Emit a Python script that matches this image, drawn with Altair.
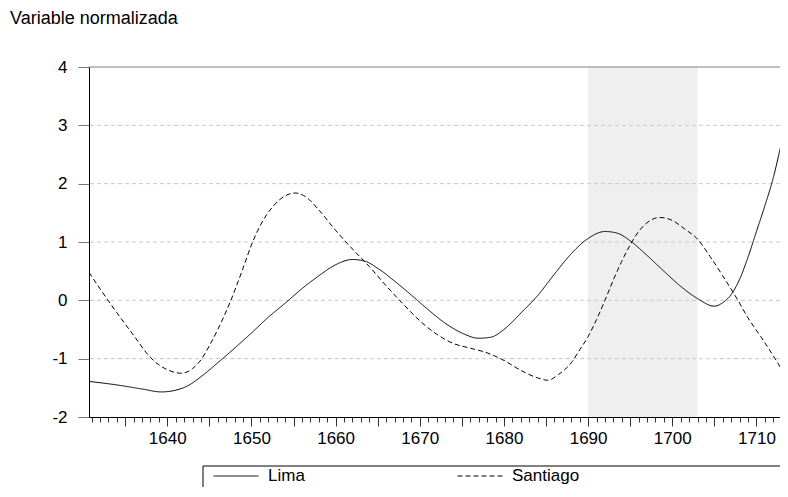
import altair as alt
import pandas as pd

# ---- data ----
lima_years = [1630.7, 1634, 1637, 1639.3, 1641, 1642.5, 1644, 1646, 1648, 1650, 1652, 1654,
              1656, 1658, 1660, 1662, 1663.5, 1665, 1667, 1669, 1671, 1673, 1675, 1677,
              1678.5, 1680, 1682, 1684, 1686, 1688, 1690, 1692, 1693.5, 1695, 1697, 1699,
              1701, 1703, 1705, 1706, 1707, 1708, 1709, 1710, 1711, 1712, 1713, 1713.6]
lima_vals = [-1.39, -1.45, -1.52, -1.57, -1.54, -1.46, -1.31, -1.07, -0.82, -0.56, -0.29, -0.05,
             0.20, 0.42, 0.61, 0.70, 0.67, 0.55, 0.33, 0.09, -0.16, -0.39, -0.56, -0.65,
             -0.63, -0.50, -0.22, 0.08, 0.45, 0.80, 1.06, 1.18, 1.15, 1.02, 0.77, 0.50,
             0.24, 0.03, -0.10, -0.04, 0.10, 0.36, 0.74, 1.18, 1.62, 2.10, 2.72, 3.12]

santiago_years = [1630.7, 1632, 1634, 1636, 1638, 1640, 1641.7, 1643, 1644, 1645, 1646, 1647.5,
                  1649, 1650, 1651, 1652.5, 1654, 1655.2, 1656.5, 1658, 1660, 1662, 1664,
                  1666, 1668, 1670, 1672, 1674, 1676, 1678, 1680, 1682, 1684, 1685.2, 1686.5,
                  1688, 1689, 1690, 1691, 1692, 1693, 1694, 1695, 1696, 1697, 1698.5, 1700,
                  1701.5, 1703, 1704.5, 1706, 1707.8, 1709, 1710.5, 1712, 1713.6]
santiago_vals = [0.48, 0.20, -0.21, -0.60, -0.98, -1.19, -1.25, -1.17, -1.02, -0.78, -0.50, -0.02,
                 0.55, 0.95, 1.27, 1.60, 1.79, 1.84, 1.77, 1.55, 1.20, 0.88, 0.58,
                 0.25, -0.06, -0.35, -0.58, -0.74, -0.82, -0.90, -1.03, -1.20, -1.33, -1.37, -1.27,
                 -1.07, -0.85, -0.62, -0.33, 0.00, 0.35, 0.67, 0.95, 1.18, 1.33, 1.42, 1.37,
                 1.22, 1.05, 0.75, 0.42, 0.00, -0.30, -0.62, -0.95, -1.33]

series_names = ["Lima", "Santiago"]
shade_start = [1690]
shade_end = [1703]
grid_values = [-1, 0, 1, 2, 3]
top_value = [4]
y_ticks = [-2, -1, 0, 1, 2, 3, 4]
x_domain = [1630.7, 1712.8]
minor_ticks = list(range(1631, 1713))

FONT = "Liberation Sans"

lines_df = pd.concat([
    pd.DataFrame({"year": lima_years, "value": lima_vals, "serie": "Lima"}),
    pd.DataFrame({"year": santiago_years, "value": santiago_vals, "serie": "Santiago"}),
])
shade_df = pd.DataFrame({"start": shade_start, "end": shade_end, "lo": [-2], "hi": [4]})
grid_df = pd.DataFrame({"g": grid_values})
top_df = pd.DataFrame({"g": top_value})

xscale = alt.Scale(domain=x_domain, nice=False, zero=False)
yscale = alt.Scale(domain=[-2, 4], nice=False, zero=False)

xaxis = alt.Axis(
    title=None, values=minor_ticks, grid=False,
    labelExpr="datum.value % 10 === 0 ? '' + datum.value : ''",
    labelOverlap=False, labelFontSize=17, labelFont=FONT, labelColor="black",
    labelPadding=4, tickColor="#333333", domainColor="black",
    tickSize={"condition": {"test": "datum.value % 5 === 0", "value": 9}, "value": 5},
)
yaxis = alt.Axis(
    title=None, values=y_ticks, grid=False, labelFontSize=17, labelFont=FONT,
    labelExpr="datum.value < 0 ? '-' + abs(datum.value) : '' + datum.value",
    labelColor="black", tickSize=11, tickColor="#777777", domainColor="black",
    labelPadding=11,
)

shade = alt.Chart(shade_df).mark_rect(color="#efefef").encode(
    x=alt.X("start:Q", scale=xscale, axis=xaxis),
    x2="end:Q",
    y=alt.Y("lo:Q", scale=yscale, axis=yaxis),
    y2="hi:Q",
)

grid = alt.Chart(grid_df).mark_rule(color="#c8c8c8", strokeDash=[4, 3], strokeWidth=1).encode(
    y=alt.Y("g:Q", scale=yscale, axis=yaxis),
)

top = alt.Chart(top_df).mark_rule(color="#808080", strokeWidth=1).encode(
    y=alt.Y("g:Q", scale=yscale, axis=yaxis),
)

lines = alt.Chart(lines_df).mark_line(
    interpolate="monotone", color="black", strokeWidth=1, clip=True
).encode(
    x=alt.X("year:Q", scale=xscale, axis=xaxis),
    y=alt.Y("value:Q", scale=yscale, axis=yaxis),
    strokeDash=alt.StrokeDash(
        "serie:N",
        scale=alt.Scale(domain=series_names, range=[[1, 0], [5, 3]]),
        legend=alt.Legend(
            orient="none", legendX=124, legendY=386, direction="horizontal", title=None,
            symbolType="stroke", symbolSize=2025, symbolStrokeWidth=1,
            symbolStrokeColor="black", labelFontSize=17, labelFont=FONT,
            labelColor="black", labelOffset=9, columnPadding=150, padding=0,
        ),
    ),
    detail="serie:N",
)

legend_box = alt.Chart(pd.DataFrame({"k": [0]})).mark_rect(
    fill=None, stroke="black", strokeWidth=1
).encode(
    x=alt.value(114), x2=alt.value(760), y=alt.value(399), y2=alt.value(470),
)

chart = alt.layer(shade, grid, top, lines, legend_box).properties(
    width=691, height=350,
    autosize=alt.AutoSizeParams(type="none"),
    padding={"left": 81, "top": 59, "right": 0, "bottom": 70},
    title=alt.TitleParams(
        "Variable normalizada", anchor="start", frame="group", dx=-79, offset=30,
        fontSize=18, fontWeight="normal", font=FONT, color="black",
    ),
).configure_view(stroke=None)

chart.save("out.html", embed_options={"renderer": "svg", "actions": False})
